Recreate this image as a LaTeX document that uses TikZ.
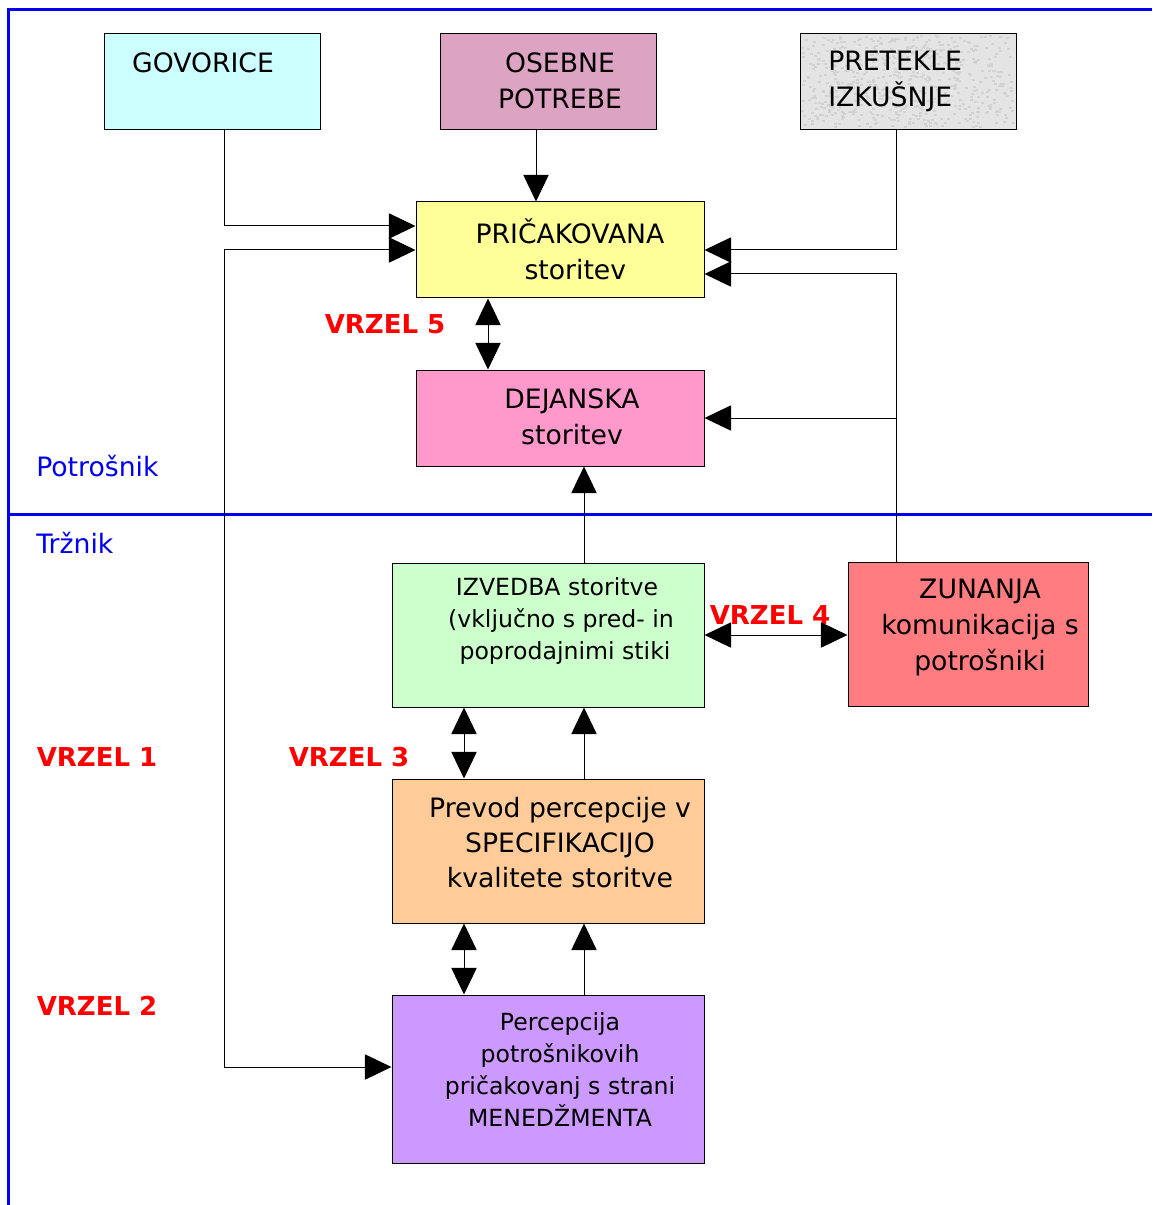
\documentclass[tikz,border=0pt]{standalone}
\usepackage{fontspec}
\setmainfont{DejaVu Sans}
\usetikzlibrary{arrows.meta}
\definecolor{cgov}{HTML}{CCFFFF}
\definecolor{cose}{HTML}{DDA3C3}
\definecolor{cpre}{HTML}{E4E4E4}
\definecolor{cpric}{HTML}{FFFF99}
\definecolor{cdej}{HTML}{FF99CC}
\definecolor{cizv}{HTML}{CCFFCC}
\definecolor{czun}{HTML}{FF7C80}
\definecolor{cprev}{HTML}{FFCC99}
\definecolor{cperc}{HTML}{CC99FF}
\definecolor{fblue}{HTML}{0000EE}
\definecolor{gapred}{HTML}{FF0000}
\tikzset{
  box/.style={draw=black, line width=0.75pt, inner sep=0pt, anchor=center},
  big/.style={font=\fontsize{20}{27}\selectfont, align=center, inner sep=0pt},
  small/.style={font=\fontsize{17.7}{24}\selectfont, align=center, inner sep=0pt},
  gap/.style={font=\fontsize{19.5}{24}\selectfont\bfseries, text=gapred, inner sep=0pt},
  side/.style={font=\fontsize{20}{24}\selectfont, text=fblue, inner sep=0pt, anchor=west},
  conn/.style={line width=0.75pt, -{Triangle[length=20pt,width=19pt]}},
  dconn/.style={line width=0.75pt, {Triangle[length=20pt,width=19pt]}-{Triangle[length=20pt,width=19pt]}},
  frame/.style={line width=2.25pt, draw=fblue}
}
\begin{document}
\begin{tikzpicture}[x=0.75pt,y=-0.75pt]
\useasboundingbox (0,0) rectangle (1152,1205);
% frame
\draw[frame] (1152,10) -- (8,10) -- (8,1205);
\draw[frame] (8,514) -- (1152,514);
% boxes
\node[box, fill=cgov, minimum width=162pt, minimum height=72pt] (gov) at (212,82) {};
\node[box, fill=cose, minimum width=162pt, minimum height=72pt] (ose) at (548,82) {};
\node[box, fill=cpre, minimum width=162pt, minimum height=72pt] (pre) at (908,82) {};
\pgfmathsetseed{7}
\foreach \i in {1,...,600}{
  \pgfmathsetmacro\rx{801+rnd*211}
  \pgfmathsetmacro\ry{35+rnd*91}
  \fill[gray!35] (\rx,\ry) rectangle ++(3,2);
}
\node[box, fill=cpric, minimum width=216pt, minimum height=72pt] (pric) at (560,250) {};
\node[box, fill=cdej, minimum width=216pt, minimum height=72pt] (dej) at (560,418) {};
\node[box, fill=cizv, minimum width=234pt, minimum height=108pt] (izv) at (548,635) {};
\node[box, fill=czun, minimum width=180pt, minimum height=108pt] (zun) at (968,634) {};
\node[box, fill=cprev, minimum width=234pt, minimum height=108pt] (prev) at (548,851) {};
\node[box, fill=cperc, minimum width=234pt, minimum height=126pt] (perc) at (548,1079) {};
% texts
\node[big] (tgov) at (203,63) {GOVORICE};
\node[big] (tose) at (560,81) {OSEBNE\\POTREBE};
\node[big, align=left, anchor=west] (tpre) at (828,81) {PRETEKLE\\IZKUŠNJE};
\node[big] (tpric) at (570,249) {PRIČAKOVANA\\\hspace*{8pt}storitev};
\node[big] (tdej) at (572,417) {DEJANSKA\\storitev};
\node[small] (tizv) at (561,621) {IZVEDBA storitve\hspace*{6pt}\\(vključno s pred- in\\\hspace*{6pt}poprodajnimi stiki};
\node[big] (tzun) at (980,628) {ZUNANJA\\komunikacija s\\potrošniki};
\node[big, font=\fontsize{20}{26.25}\selectfont] (tprev) at (560,843) {Prevod percepcije v\\SPECIFIKACIJO\\kvalitete storitve};
\node[small] (tperc) at (560,1070) {Percepcija\\potrošnikovih\\pričakovanj s strani\\MENEDŽMENTA};
% side labels
\node[side] (potr) at (36,466) {Potrošnik};
\node[side] (trz) at (36,543) {Tržnik};
% gap labels
\node[gap] (v5) at (385,324) {VRZEL 5};
\node[gap] (v4) at (770,615) {VRZEL 4};
\node[gap] (v1) at (97,757) {VRZEL 1};
\node[gap] (v3) at (349,757) {VRZEL 3};
\node[gap] (v2) at (97,1006) {VRZEL 2};
% helper coordinates
\coordinate (govb) at ([xshift=9pt]gov.south);
\coordinate (oseb) at ([xshift=-9pt]ose.south);
\coordinate (preb) at ([xshift=-9pt]pre.south);
\coordinate (zunt) at ([xshift=-54pt]zun.north);
\coordinate (lx) at (224,0);
\coordinate (percin) at ([yshift=9pt]perc.west);
% connectors
\draw[conn] (govb) |- ([yshift=18pt]pric.west);
\draw[conn] (oseb) -- (oseb |- pric.north);
\draw[conn] (preb) |- (pric.east);
\draw[conn] (zunt) |- ([yshift=-18pt]pric.east);
\draw[conn] (zunt) |- (dej.east);
\draw[dconn] (pric.west) -- (pric.west -| lx) -- (percin -| lx) -- (percin);
\draw[dconn] ([xshift=-54pt]pric.south) -- ([xshift=-54pt]dej.north);
\draw[conn] ([xshift=27pt]izv.north) -- ([xshift=18pt]dej.south);
\draw[dconn] (izv.east) -- (izv.east -| zun.west);
\draw[dconn] ([xshift=-63pt]izv.south) -- ([xshift=-63pt]prev.north);
\draw[conn] ([xshift=27pt]prev.north) -- ([xshift=27pt]izv.south);
\draw[dconn] ([xshift=-63pt]prev.south) -- ([xshift=-63pt]perc.north);
\draw[conn] ([xshift=27pt]perc.north) -- ([xshift=27pt]prev.south);
\end{tikzpicture}
\end{document}
